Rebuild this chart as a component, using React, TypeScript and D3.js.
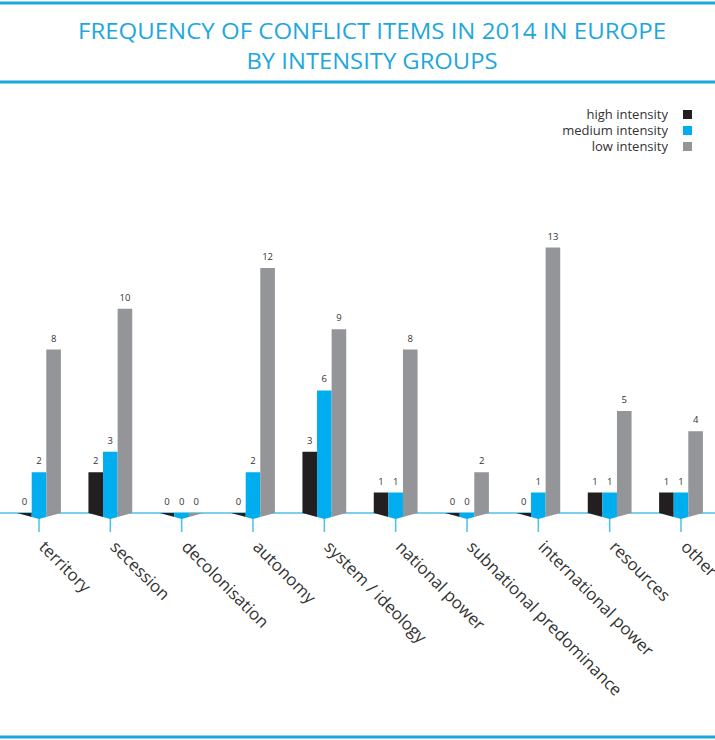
import { scaleLinear, scalePoint, select } from 'd3';
import React, { useEffect, useRef } from 'react';

const categories = [
  'territory',
  'secession',
  'decolonisation',
  'autonomy',
  'system / ideology',
  'national power',
  'subnational predominance',
  'international power',
  'resources',
  'other',
];
const highIntensity = [0, 2, 0, 0, 3, 1, 0, 0, 1, 1];
const mediumIntensity = [2, 3, 0, 2, 6, 1, 0, 1, 1, 1];
const lowIntensity = [8, 10, 0, 12, 9, 8, 2, 13, 5, 4];
const seriesNames = ['high intensity', 'medium intensity', 'low intensity'];
const seriesColors = ['#231f20', '#00aeef', '#939598'];

const W = 715;
const H = 740;
const BASE = 513;
const BW = 14.6;
const DEPTH = 6;
const BLUE = '#1ba6dc';

const App: React.FC = () => {
  const svgRef = useRef<SVGSVGElement>(null);

  useEffect(() => {
    const svg = select(svgRef.current);
    svg.selectAll('*').remove();

    const xScale = scalePoint<string>().domain(categories).range([39, 681]);
    const yScale = scaleLinear().domain([0, 13]).range([BASE, BASE - 265.5]);

    // frame lines
    svg
      .selectAll('.frame')
      .data([3, 82, 737])
      .join('rect')
      .attr('class', 'frame')
      .attr('x', 0)
      .attr('y', (d) => d - 1.5)
      .attr('width', W)
      .attr('height', 3)
      .attr('fill', BLUE);

    // title
    svg
      .selectAll('.title')
      .data([
        { t: 'FREQUENCY OF CONFLICT ITEMS IN 2014 IN EUROPE', y: 39, len: 588 },
        { t: 'BY INTENSITY GROUPS', y: 69, len: 251 },
      ])
      .join('text')
      .attr('class', 'title')
      .attr('x', 372)
      .attr('y', (d) => d.y)
      .attr('text-anchor', 'middle')
      .attr('textLength', (d) => d.len)
      .attr('lengthAdjust', 'spacingAndGlyphs')
      .attr('fill', '#1ea7dd')
      .style('font-family', 'Open Sans, sans-serif')
      .style('font-size', '21px')
      .text((d) => d.t);

    // legend
    const legend = svg
      .selectAll('.legend')
      .data(seriesNames)
      .join('g')
      .attr('class', 'legend')
      .attr('transform', (d, i) => `translate(0, ${119 + i * 16})`);
    legend
      .append('text')
      .attr('x', 668)
      .attr('y', 0)
      .attr('text-anchor', 'end')
      .attr('fill', '#333')
      .style('font-family', 'Open Sans, sans-serif')
      .style('font-size', '13px')
      .text((d) => d);
    legend
      .append('rect')
      .attr('x', 683)
      .attr('y', -9)
      .attr('width', 9)
      .attr('height', 9)
      .attr('fill', (d, i) => seriesColors[i]);

    // axis line and ticks
    svg
      .append('line')
      .attr('x1', 0)
      .attr('x2', W)
      .attr('y1', BASE)
      .attr('y2', BASE)
      .attr('stroke', '#4fc0e8')
      .attr('stroke-width', 1.5);
    svg
      .selectAll('.tick')
      .data(categories)
      .join('line')
      .attr('class', 'tick')
      .attr('x1', (d) => xScale(d) as number)
      .attr('x2', (d) => xScale(d) as number)
      .attr('y1', BASE)
      .attr('y2', 532)
      .attr('stroke', '#4fc0e8')
      .attr('stroke-width', 1.5);

    // bars with slanted bottom face
    const seriesValues = [highIntensity, mediumIntensity, lowIntensity];
    const bars = categories.flatMap((c, ci) =>
      seriesValues.map((vals, si) => ({
        cx: (xScale(c) as number) + (si - 1) * BW,
        tick: xScale(c) as number,
        value: vals[ci],
        color: seriesColors[si],
      })),
    );
    const drop = (x: number, tick: number) =>
      DEPTH * Math.max(0, 1 - Math.abs(x - tick) / (1.5 * BW));

    svg
      .selectAll('.bar')
      .data(bars)
      .join('path')
      .attr('class', 'bar')
      .attr('fill', (d) => d.color)
      .attr('d', (d) => {
        const x0 = d.cx - BW / 2;
        const x1 = d.cx + BW / 2;
        const top = yScale(d.value);
        const pts: [number, number][] = [
          [x0, top],
          [x1, top],
          [x1, BASE + drop(x1, d.tick)],
        ];
        if (x0 < d.tick && x1 > d.tick) pts.push([d.tick, BASE + DEPTH]);
        pts.push([x0, BASE + drop(x0, d.tick)]);
        return 'M' + pts.map((p) => p.join(',')).join('L') + 'Z';
      });

    svg
      .selectAll('.val')
      .data(bars)
      .join('text')
      .attr('class', 'val')
      .attr('x', (d) => d.cx)
      .attr('y', (d) => yScale(d.value) - 8)
      .attr('text-anchor', 'middle')
      .attr('fill', '#333')
      .style('font-family', 'Open Sans, sans-serif')
      .style('font-size', '9.5px')
      .text((d) => d.value);

    // category labels
    svg
      .selectAll('.cat')
      .data(categories)
      .join('text')
      .attr('class', 'cat')
      .attr(
        'transform',
        (d) => `translate(${(xScale(d) as number) - 1}, 548) rotate(45)`,
      )
      .attr('fill', '#333')
      .style('font-family', 'Open Sans, sans-serif')
      .style('font-size', '16.8px')
      .text((d) => d);
  }, []);

  return (
    <svg
      ref={svgRef}
      width={W}
      height={H}
      style={{ position: 'absolute', left: 0, top: 0, background: '#fff' }}
    />
  );
};

export default App;
